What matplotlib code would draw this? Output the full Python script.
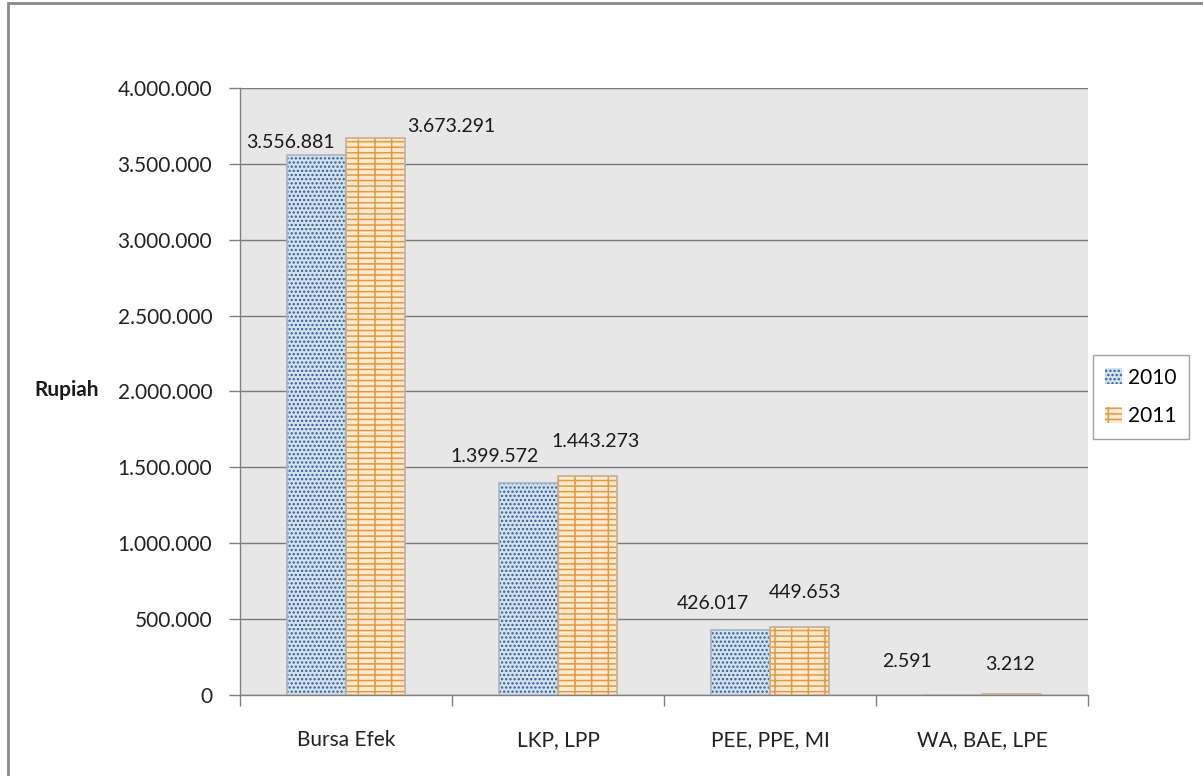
import numpy as np
import matplotlib.pyplot as plt
from matplotlib.patches import Rectangle

categories = ['Bursa Efek', 'LKP, LPP', 'PEE, PPE, MI', 'WA, BAE, LPE']
years = ['2010', '2011']
vals_2010 = [3556881, 1399572, 426017, 2591]
vals_2011 = [3673291, 1443273, 449653, 3212]

def fmt(v):
    return f'{v:,.0f}'.replace(',', '.')

plt.rcParams['font.family'] = ['Lato', 'DejaVu Sans']
plt.rcParams['hatch.linewidth'] = 1.1

fig = plt.figure(figsize=(12.03, 7.76), dpi=100)
ax = fig.add_axes([0.1995, 0.1044, 0.7049, 0.7822])
ax.set_facecolor('#e7e7e7')

# outer frame (only top and left edges visible)
fig.patches.append(Rectangle((8 / 1203, -0.1), 1.2, 1 - 3 / 776 + 0.1,
                             transform=fig.transFigure, fill=False,
                             edgecolor='#8a8a8a', linewidth=2))

x = np.arange(len(categories))
w = 0.28

# 2010: blue dots, 2011: orange bricks
b1 = ax.bar(x - w / 2, vals_2010, w, color='#d3e1ef', edgecolor='#2f5f97',
            hatch='....', linewidth=0, zorder=3, label=years[0])
ax.bar(x - w / 2, vals_2010, w, facecolor='none', edgecolor='#a9b4bf',
       linewidth=1.2, zorder=4)
b2 = ax.bar(x + w / 2, vals_2011, w, color='#fde9cb', edgecolor='#e09a45',
            hatch='+--', linewidth=0, zorder=3, label=years[1])
ax.bar(x + w / 2, vals_2011, w, facecolor='none', edgecolor='#c9ad90',
       linewidth=1.2, zorder=4)

# label offsets in pixels (dx, dy) from bar top centre, as placed in the original
off_2010 = [(-26, 13), (-34, 26), (-27, 27), (-45, 33)]
off_2011 = [(76, 11), (8, 34), (5, 34), (-2, 30)]
for i in range(len(categories)):
    ax.annotate(fmt(vals_2010[i]), (x[i] - w / 2, vals_2010[i]),
                xytext=off_2010[i], textcoords='offset pixels',
                ha='center', va='center', fontsize=14, color='#1a1a1a', zorder=5)
    ax.annotate(fmt(vals_2011[i]), (x[i] + w / 2, vals_2011[i]),
                xytext=off_2011[i], textcoords='offset pixels',
                ha='center', va='center', fontsize=14, color='#1a1a1a', zorder=5)

ax.set_xlim(-0.5, len(categories) - 0.5)
ax.set_ylim(0, 4000000)
yt = np.arange(0, 4000001, 500000)
ax.set_yticks(yt)
ax.set_yticklabels([fmt(v) for v in yt], fontsize=15, color='#222222')
ax.set_xticks(x)
ax.set_xticklabels(categories, fontsize=15, color='#222222')
ax.set_xticks(np.arange(-0.5, len(categories)), minor=True)
ax.tick_params(axis='x', which='major', length=0, pad=25)
ax.tick_params(axis='x', which='minor', length=8, color='#808080', width=1)
ax.tick_params(axis='y', length=8, color='#808080', width=1, pad=12)

ax.grid(axis='y', color='#7a7a7a', linewidth=1, zorder=1)
ax.set_axisbelow(True)
for s in ['top', 'right']:
    ax.spines[s].set_visible(False)
for s in ['left', 'bottom']:
    ax.spines[s].set_color('#808080')
    ax.spines[s].set_linewidth(1)

fig.text(67 / 1203, 1 - 390 / 776, 'Rupiah', fontsize=15, fontweight='bold',
         ha='center', va='center', color='#1a1a1a')

leg = fig.legend(handles=[b1, b2], labels=years, loc='center',
                 bbox_to_anchor=(1141 / 1203, 1 - 397 / 776), fontsize=15,
                 frameon=True, fancybox=False, edgecolor='#8a8a8a',
                 handlelength=0.8, handleheight=0.8, handletextpad=0.3,
                 labelspacing=0.9, borderpad=0.6)
leg.get_frame().set_linewidth(1)

fig.savefig('out.png', dpi=100)
